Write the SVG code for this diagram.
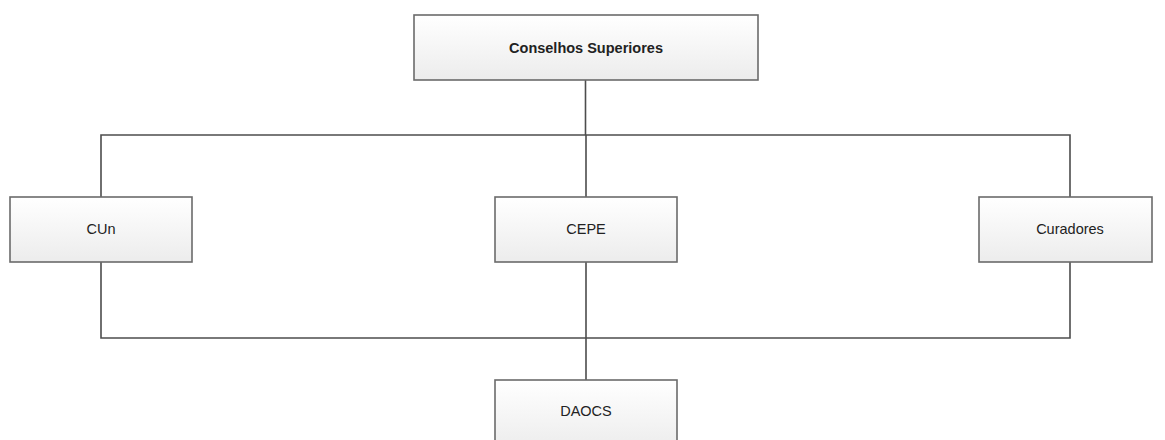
<svg xmlns="http://www.w3.org/2000/svg" width="1165" height="440" viewBox="0 0 1165 440">
<defs>
<linearGradient id="g" x1="0" y1="0" x2="0" y2="1">
<stop offset="0" stop-color="#ffffff"/>
<stop offset="1" stop-color="#ececec"/>
</linearGradient>
<style>
.box{fill:url(#g);stroke:#6b6b6b;stroke-width:1.6}
.t{font-family:"Liberation Sans",Arial,sans-serif;font-size:14.5px;fill:#222;text-anchor:middle;dominant-baseline:central}
.b{font-weight:bold}
.c{fill:none;stroke:#4d4d4d;stroke-width:1.6}
</style>
</defs>
<rect width="1165" height="440" fill="#ffffff"/>
<g id="connectors">
<path class="c" d="M585.5 80V135M101 197V135H1070V197M586 135V197"/>
<path class="c" d="M101 262V338H1070V262M586 262V380"/>
</g>
<g id="conselhos"><rect class="box" x="414" y="15" width="344" height="65"/><text class="t b" x="586" y="47.5">Conselhos Superiores</text></g>
<g id="cun"><rect class="box" x="10" y="197" width="182" height="65"/><text class="t" x="101" y="229">CUn</text></g>
<g id="cepe"><rect class="box" x="495" y="197" width="182" height="65"/><text class="t" x="586" y="229">CEPE</text></g>
<g id="curadores"><rect class="box" x="979" y="197" width="173" height="65"/><text class="t" x="1070" y="229">Curadores</text></g>
<g id="daocs"><rect class="box" x="495" y="380" width="182" height="70"/><text class="t" x="586" y="411">DAOCS</text></g>
</svg>
